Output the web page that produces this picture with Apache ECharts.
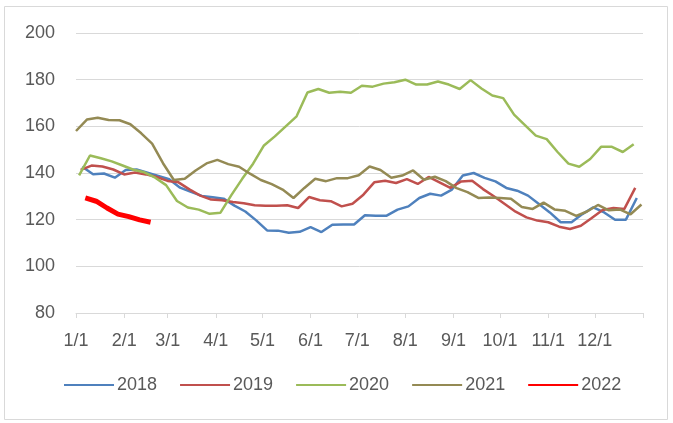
<!DOCTYPE html>
<html lang="en">
<head>
    <meta charset="UTF-8">
    <title>Weekly index 2018-2022</title>
    <script src="https://cdn.jsdelivr.net/npm/echarts@6/dist/echarts.min.js"></script>
    <style>
        body { margin: 0; background: #fff; }
    </style>
</head>
<body>
<div id="main" style="width: 673px;height:423px;"></div>
<script type="text/javascript">
    // month starts (day of year) used for the axis ticks
    var monthDays = [0, 31, 59, 90, 120, 151, 181, 212, 243, 273, 304, 334];
    var monthLabels = ['1/1', '2/1', '3/1', '4/1', '5/1', '6/1', '7/1', '8/1', '9/1', '10/1', '11/1', '12/1'];
    var yearEnd = 365;

    var years = ['2018', '2019', '2020', '2021', '2022'];
    // day of year of the first weekly reading (Fridays)
    var firstDay = [4, 3, 2, 0, 6];

    var v2018 = [142.7, 139.5, 139.8, 138, 141.3, 141.5, 140.1, 138.7, 137.3, 133.7, 131.9, 130.2,
        129.6, 129, 126, 123.5, 119.7, 115.4, 115.3, 114.4, 114.8, 116.8, 114.7, 117.8,
        117.9, 117.9, 121.9, 121.7, 121.7, 124.3, 125.7, 129.3, 131.1, 130.3, 132.9, 138.9,
        140, 137.9, 136.4, 133.6, 132.4, 130.3, 126.7, 123.1, 118.9, 118.9, 122.4, 125.3,
        123.1, 120, 120, 129.3];
    var v2019 = [141.3, 143.2, 142.8, 141.5, 139.4, 140.2, 139.4, 138.3, 136.6, 136, 133, 130.3,
        128.6, 128.3, 127.6, 127, 126.2, 126, 126, 126.2, 125, 129.7, 128.3, 127.9,
        125.7, 126.8, 130.7, 136, 136.7, 135.7, 137.4, 135.3, 138.3, 136, 133.6, 136.4,
        136.7, 133.1, 130, 126.7, 123.4, 121, 119.6, 118.9, 117, 116, 117.4, 120.7,
        124.1, 125, 124.6, 133.6];
    var v2020 = [139, 147.5, 146.3, 145, 143.2, 141.4, 140.3, 138, 134.8, 128, 125.2, 124.3,
        122.5, 123, 130.5, 137.5, 144, 151.8, 155.7, 160, 164.3, 174.5, 176, 174.4,
        174.8, 174.4, 177.4, 177, 178.3, 178.9, 180, 177.9, 177.9, 179.2, 177.9, 176,
        179.8, 176.2, 173.2, 172.1, 165, 160.5, 156, 154.5, 149, 144, 142.7, 146,
        151.2, 151.2, 149, 152.3];
    var v2021 = [158, 162.9, 163.7, 162.7, 162.6, 160.9, 157, 152.6, 144.2, 137, 137.5, 141.1,
        144.1, 145.6, 143.8, 142.7, 139.7, 137, 135.2, 132.9, 129.3, 133.6, 137.5, 136.5,
        137.8, 137.8, 139, 142.8, 141.3, 138, 138.9, 141.1, 137.1, 138.4, 136.5, 133.5,
        131.8, 129.3, 129.5, 129.3, 129, 125.4, 124.6, 127.3, 124.4, 123.8, 121.6, 123.5,
        126.3, 124, 124.4, 122.3, 126.5];
    var v2022 = [129.3, 127.9, 125, 122.4, 121.3, 119.9, 118.9];

    var values = [v2018, v2019, v2020, v2021, v2022];
    var colors = ['#4f81bd', '#c0504d', '#9bbb59', '#948a54', '#ff0000'];
    var widths = [2.5, 2.5, 2.5, 2.5, 5];

    function weekly(start, vals) {
        return vals.map(function (v, i) {
            return [start + 7 * i, v];
        });
    }

    var myChart = echarts.init(document.getElementById('main'));

    var series = years.map(function (name, k) {
        return {
            name: name,
            type: 'line',
            symbol: 'none',
            color: colors[k],
            lineStyle: { width: widths[k], color: colors[k] },
            data: weekly(firstDay[k], values[k]),
            animation: false
        };
    });

    myChart.setOption({
        animation: false,
        textStyle: { fontFamily: 'Liberation Sans' },
        graphic: [{
            type: 'rect',
            shape: { x: 4.5, y: 6.5, width: 663, height: 413 },
            style: { fill: 'none', stroke: '#d9d9d9', lineWidth: 1 },
            silent: true
        }],
        grid: {
            left: 76,
            right: 30,
            top: 33,
            bottom: 110
        },
        legend: {
            left: 58,
            top: 371,
            itemWidth: 50,
            itemHeight: 18,
            itemGap: 22,
            // hide the marker dot, keep only the line
            itemStyle: { opacity: 0 },
            textStyle: { fontSize: 18, color: '#595959', padding: [0, 0, 0, -2] },
            data: years
        },
        xAxis: {
            type: 'value',
            min: 0,
            max: yearEnd,
            axisLine: { lineStyle: { color: '#d9d9d9' } },
            axisTick: {
                show: true,
                length: 5,
                lineStyle: { color: '#d9d9d9' },
                customValues: monthDays.concat([yearEnd])
            },
            axisLabel: {
                customValues: monthDays,
                color: '#595959',
                fontSize: 18,
                margin: 19,
                formatter: function (val) {
                    var i = monthDays.indexOf(val);
                    return i >= 0 ? monthLabels[i] : '';
                }
            },
            splitLine: { show: false }
        },
        yAxis: {
            type: 'value',
            min: 80,
            max: 200,
            interval: 20,
            axisLine: { show: false },
            axisTick: { show: false },
            axisLabel: { color: '#595959', fontSize: 18, margin: 21 },
            splitLine: { lineStyle: { color: '#d9d9d9', width: 1 } }
        },
        series: series
    });
</script>
</body>
</html>
